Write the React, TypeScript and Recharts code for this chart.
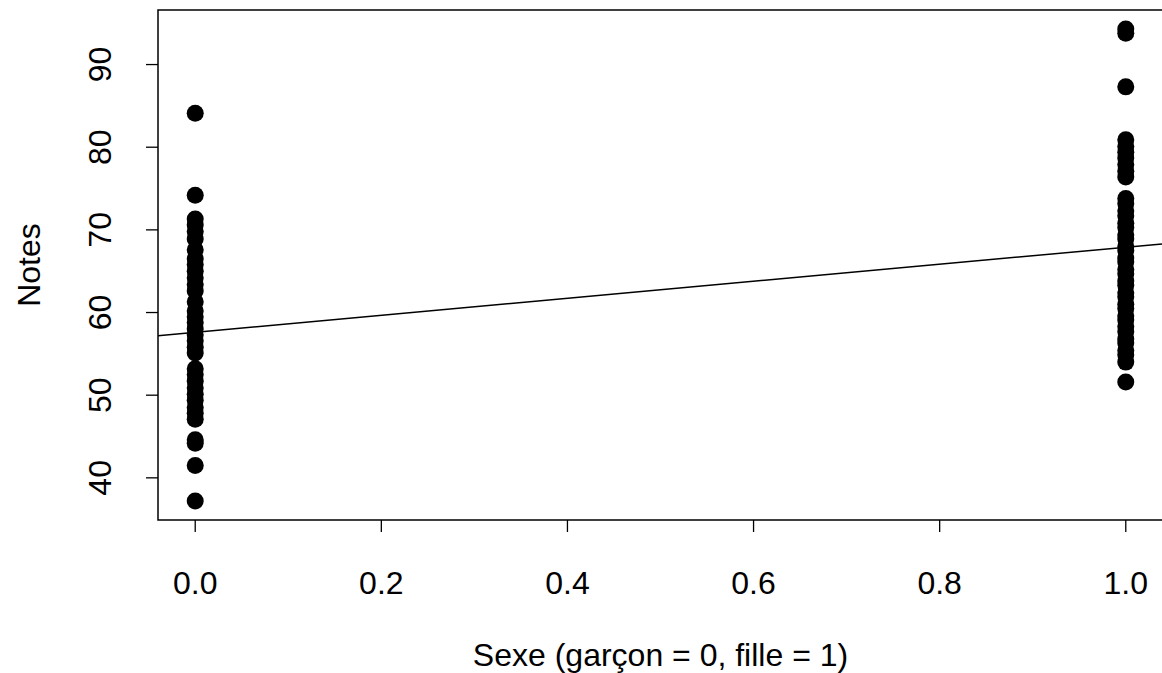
import {
  ReferenceArea,
  ReferenceLine,
  Scatter,
  ScatterChart,
  XAxis,
  YAxis,
  Label,
} from "recharts";

// notes des garçons (sexe = 0)
const boysNotes = [
  84.1, 74.2, 71.3, 70.6, 69.8, 68.9, 67.6, 66.5, 65.8, 65.0, 64.2, 63.4,
  62.6, 61.3, 60.2, 59.5, 58.8, 58.0, 57.3, 56.6, 55.8, 55.1, 53.2, 52.5,
  51.7, 50.9, 50.1, 49.4, 48.5, 47.8, 47.1, 44.6, 44.2, 41.5, 37.2,
];

// notes des filles (sexe = 1)
const girlsNotes = [
  94.3, 93.8, 87.3, 80.9, 80.1, 79.4, 78.7, 77.9, 77.1, 76.4, 73.8, 73.2,
  72.3, 71.7, 70.8, 70.3, 69.4, 68.9, 68.0, 67.5, 66.6, 66.1, 65.2, 64.7,
  63.8, 63.3, 62.4, 61.9, 61.0, 60.5, 59.6, 59.1, 58.3, 57.7, 56.8, 56.3,
  55.4, 54.9, 54.0, 51.6,
];

const xTicks = [0, 0.2, 0.4, 0.6, 0.8, 1.0];
const yTicks = [40, 50, 60, 70, 80, 90];

// droite de régression
const fitIntercept = 57.6;
const fitSlope = 10.3;

const X_DOMAIN = [-0.04, 1.04];
const Y_DOMAIN = [34.9, 96.6];

const FONT = "'Liberation Sans', Arial, Helvetica, sans-serif";
const FS = 32;

const boys = boysNotes.map((n) => ({ sexe: 0, note: n }));
const girls = girlsNotes.map((n) => ({ sexe: 1, note: n }));

const Dot = (props: any) => {
  const { cx, cy } = props;
  return <circle cx={cx} cy={cy} r={8.5} fill="#000" />;
};

const XTick = ({ x, y, payload }: any) => (
  <text
    x={x}
    y={y + 51}
    textAnchor="middle"
    dominantBaseline="central"
    fontFamily={FONT}
    fontSize={FS}
    fill="#000"
  >
    {Number(payload.value).toFixed(1)}
  </text>
);

const YTick = ({ x, y, payload }: any) => (
  <text
    x={x - 46}
    y={y}
    textAnchor="middle"
    dominantBaseline="central"
    fontFamily={FONT}
    fontSize={FS}
    fill="#000"
    transform={`rotate(-90, ${x - 46}, ${y})`}
  >
    {payload.value}
  </text>
);

export default function App() {
  return (
    <div
      style={{
        position: "absolute",
        left: 0,
        top: 0,
        width: 1162,
        height: 673,
        overflow: "hidden",
        background: "#fff",
      }}
    >
      <ScatterChart
        width={1164}
        height={673}
        margin={{ top: 10, right: 1, bottom: 0, left: 0 }}
      >
        <XAxis
          type="number"
          dataKey="sexe"
          domain={X_DOMAIN}
          ticks={xTicks}
          allowDataOverflow
          height={153}
          tickSize={12}
          tickMargin={0}
          axisLine={false}
          tickLine={{ stroke: "#000", strokeWidth: 1.3 }}
          tick={<XTick />}
        >
          <Label
            content={({ viewBox }: any) => (
              <text
                x={viewBox.x + viewBox.width / 2}
                y={655}
                textAnchor="middle"
                dominantBaseline="central"
                fontFamily={FONT}
                fontSize={FS}
                fill="#000"
              >
                Sexe (garçon = 0, fille = 1)
              </text>
            )}
          />
        </XAxis>
        <YAxis
          type="number"
          dataKey="note"
          domain={Y_DOMAIN}
          ticks={yTicks}
          allowDataOverflow
          width={158}
          tickSize={12}
          tickMargin={0}
          axisLine={false}
          tickLine={{ stroke: "#000", strokeWidth: 1.3 }}
          tick={<YTick />}
        >
          <Label
            content={({ viewBox }: any) => {
              const cy = viewBox.y + viewBox.height / 2;
              return (
                <text
                  x={29}
                  y={cy}
                  textAnchor="middle"
                  dominantBaseline="central"
                  fontFamily={FONT}
                  fontSize={FS}
                  fill="#000"
                  transform={`rotate(-90, 29, ${cy})`}
                >
                  Notes
                </text>
              );
            }}
          />
        </YAxis>
        <ReferenceArea
          x1={X_DOMAIN[0]}
          x2={X_DOMAIN[1]}
          y1={Y_DOMAIN[0]}
          y2={Y_DOMAIN[1]}
          fill="none"
          stroke="#000"
          strokeWidth={1.5}
          ifOverflow="visible"
        />
        <Scatter data={boys} shape={<Dot />} isAnimationActive={false} />
        <Scatter data={girls} shape={<Dot />} isAnimationActive={false} />
        <ReferenceLine
          segment={[
            { x: X_DOMAIN[0], y: fitIntercept + fitSlope * X_DOMAIN[0] },
            { x: X_DOMAIN[1], y: fitIntercept + fitSlope * X_DOMAIN[1] },
          ]}
          stroke="#000"
          strokeWidth={1.5}
          ifOverflow="visible"
        />
      </ScatterChart>
    </div>
  );
}
